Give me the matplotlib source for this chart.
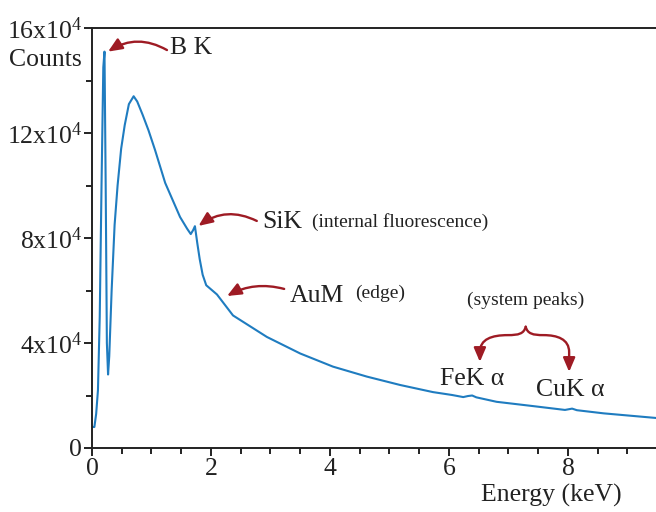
import matplotlib
matplotlib.use("Agg")
import matplotlib.pyplot as plt
from matplotlib.path import Path
from matplotlib.patches import FancyArrowPatch

plt.rcParams["font.family"] = ["Liberation Serif", "DejaVu Serif"]
plt.rcParams["mathtext.fontset"] = "custom"
plt.rcParams["mathtext.rm"] = "Liberation Serif"
plt.rcParams["mathtext.it"] = "Liberation Serif:italic"

# EDS spectrum: energy (keV) and counts (units of 1e4)
energy_kev = [0.00, 0.04, 0.07, 0.10, 0.13, 0.16, 0.19, 0.21, 0.23, 0.25, 0.27,
              0.29, 0.33, 0.38, 0.43, 0.49, 0.55, 0.62, 0.70, 0.76, 0.85, 0.95,
              1.06, 1.23, 1.48, 1.60, 1.66, 1.70, 1.73, 1.77, 1.81, 1.86, 1.92,
              2.10, 2.37, 2.94, 3.50, 4.05, 4.62, 5.18, 5.73, 6.05, 6.24, 6.32,
              6.39, 6.46, 6.80, 7.40, 7.95, 8.07, 8.15, 8.60, 9.00, 9.50]
counts_1e4 = [0.80, 0.80, 1.30, 2.20, 5.00, 10.0, 14.5, 15.1, 10.0, 4.00, 2.80,
              3.50, 6.00, 8.50, 10.0, 11.4, 12.3, 13.1, 13.4, 13.2, 12.7, 12.1,
              11.35, 10.1, 8.80, 8.35, 8.15, 8.30, 8.45, 7.80, 7.20, 6.60, 6.20,
              5.85, 5.05, 4.23, 3.60, 3.10, 2.72, 2.40, 2.13, 2.02, 1.94, 1.98,
              2.00, 1.93, 1.76, 1.60, 1.45, 1.50, 1.44, 1.32, 1.24, 1.14]

x_ticks = [0, 2, 4, 6, 8]
x_tick_labels = ["0", "2", "4", "6", "8"]
y_ticks = [0, 4, 8, 12, 16]
y_tick_labels = ["0", "4x10$^{4}$", "8x10$^{4}$", "12x10$^{4}$", "16x10$^{4}$"]

LINE_BLUE = "#1f7cc0"
ARROW_RED = "#9e1b24"
INK = "#222222"
BIG = 18.5
SMALL = 14

fig = plt.figure(figsize=(6.56, 5.12), dpi=100)
ax = fig.add_axes([92 / 656, 1 - 448 / 512, 1 - 92 / 656, 420 / 512])

ax.plot(energy_kev, counts_1e4, color=LINE_BLUE, lw=1.5, solid_joinstyle="round")

ax.set_xlim(0, 9.48)
ax.set_ylim(0, 16)

ax.set_xticks(x_ticks)
ax.set_xticklabels(x_tick_labels)
ax.set_xticks([v + 0.5 * k for v in range(0, 10) for k in (0, 1)
               if v + 0.5 * k not in x_ticks and v + 0.5 * k < 9.48], minor=True)
ax.set_yticks(y_ticks)
ax.set_yticklabels(y_tick_labels)
ax.set_yticks([2, 6, 10, 14], minor=True)

ax.tick_params(axis="both", which="major", direction="out", length=6, width=1.4,
               labelsize=BIG, pad=1, color=INK, labelcolor=INK)
ax.tick_params(axis="both", which="minor", direction="out", length=4, width=1.4,
               color=INK)

for side in ("left", "bottom", "top"):
    ax.spines[side].set_linewidth(1.4)
    ax.spines[side].set_color(INK)
ax.spines["right"].set_visible(False)

fig.text(9 / 656, 1 - 60 / 512, "Counts", ha="left", va="center",
         fontsize=BIG, color=INK)
ax.set_xlabel("Energy (keV)", fontsize=BIG, color=INK)
ax.xaxis.set_label_coords((551 - 92) / 564, -0.085)

# Peak annotations
arrow_kw = dict(arrowstyle="-|>,head_length=0.7,head_width=0.3", color=ARROW_RED,
                lw=1.7, shrinkA=0, shrinkB=0, mutation_scale=12)

ax.text(1.31, 15.24, "B K", ha="left", va="center", fontsize=BIG, color=INK)
ax.annotate("", xy=(0.27, 15.1), xytext=(1.26, 15.16),
            arrowprops=dict(connectionstyle="arc3,rad=0.3", **arrow_kw))

ax.text(2.86, 8.61, "SiK", ha="left", va="center", fontsize=BIG, color=INK)
ax.text(3.70, 8.61, "(internal fluorescence)", ha="left", va="center",
        fontsize=SMALL, color=INK)
ax.annotate("", xy=(1.79, 8.46), xytext=(2.77, 8.65),
            arrowprops=dict(connectionstyle="arc3,rad=0.3", **arrow_kw))

ax.text(3.33, 5.79, "AuM", ha="left", va="center", fontsize=BIG, color=INK)
ax.text(4.42, 5.90, "(edge)", ha="left", va="center", fontsize=SMALL, color=INK)
ax.annotate("", xy=(2.27, 5.79), xytext=(3.23, 6.06),
            arrowprops=dict(connectionstyle="arc3,rad=0.2", **arrow_kw))

ax.text(7.29, 5.64, "(system peaks)", ha="center", va="center", fontsize=SMALL,
        color=INK)
ax.text(5.85, 2.63, "FeK \u03b1", ha="left", va="center", fontsize=BIG, color=INK)
ax.text(7.46, 2.21, "CuK \u03b1", ha="left", va="center", fontsize=BIG, color=INK)

# Curly brace splitting into two arrows
cx, top_y, mid_y = 7.29, 4.62, 4.30
for tip_x, tip_y in ((6.52, 3.28), (8.02, 2.90)):
    s = 1 if tip_x > cx else -1
    verts = [(cx, top_y),
             (cx + s * 0.03, mid_y + 0.05), (cx + s * 0.12, mid_y), (cx + s * 0.30, mid_y),
             (tip_x - s * 0.20, mid_y), (tip_x, mid_y - 0.15), (tip_x, mid_y - 0.65),
             (tip_x, tip_y)]
    codes = [Path.MOVETO,
             Path.CURVE4, Path.CURVE4, Path.CURVE4,
             Path.CURVE4, Path.CURVE4, Path.CURVE4,
             Path.LINETO]
    ax.add_patch(FancyArrowPatch(path=Path(verts, codes), **arrow_kw))

fig.savefig("out.png", dpi=100)
